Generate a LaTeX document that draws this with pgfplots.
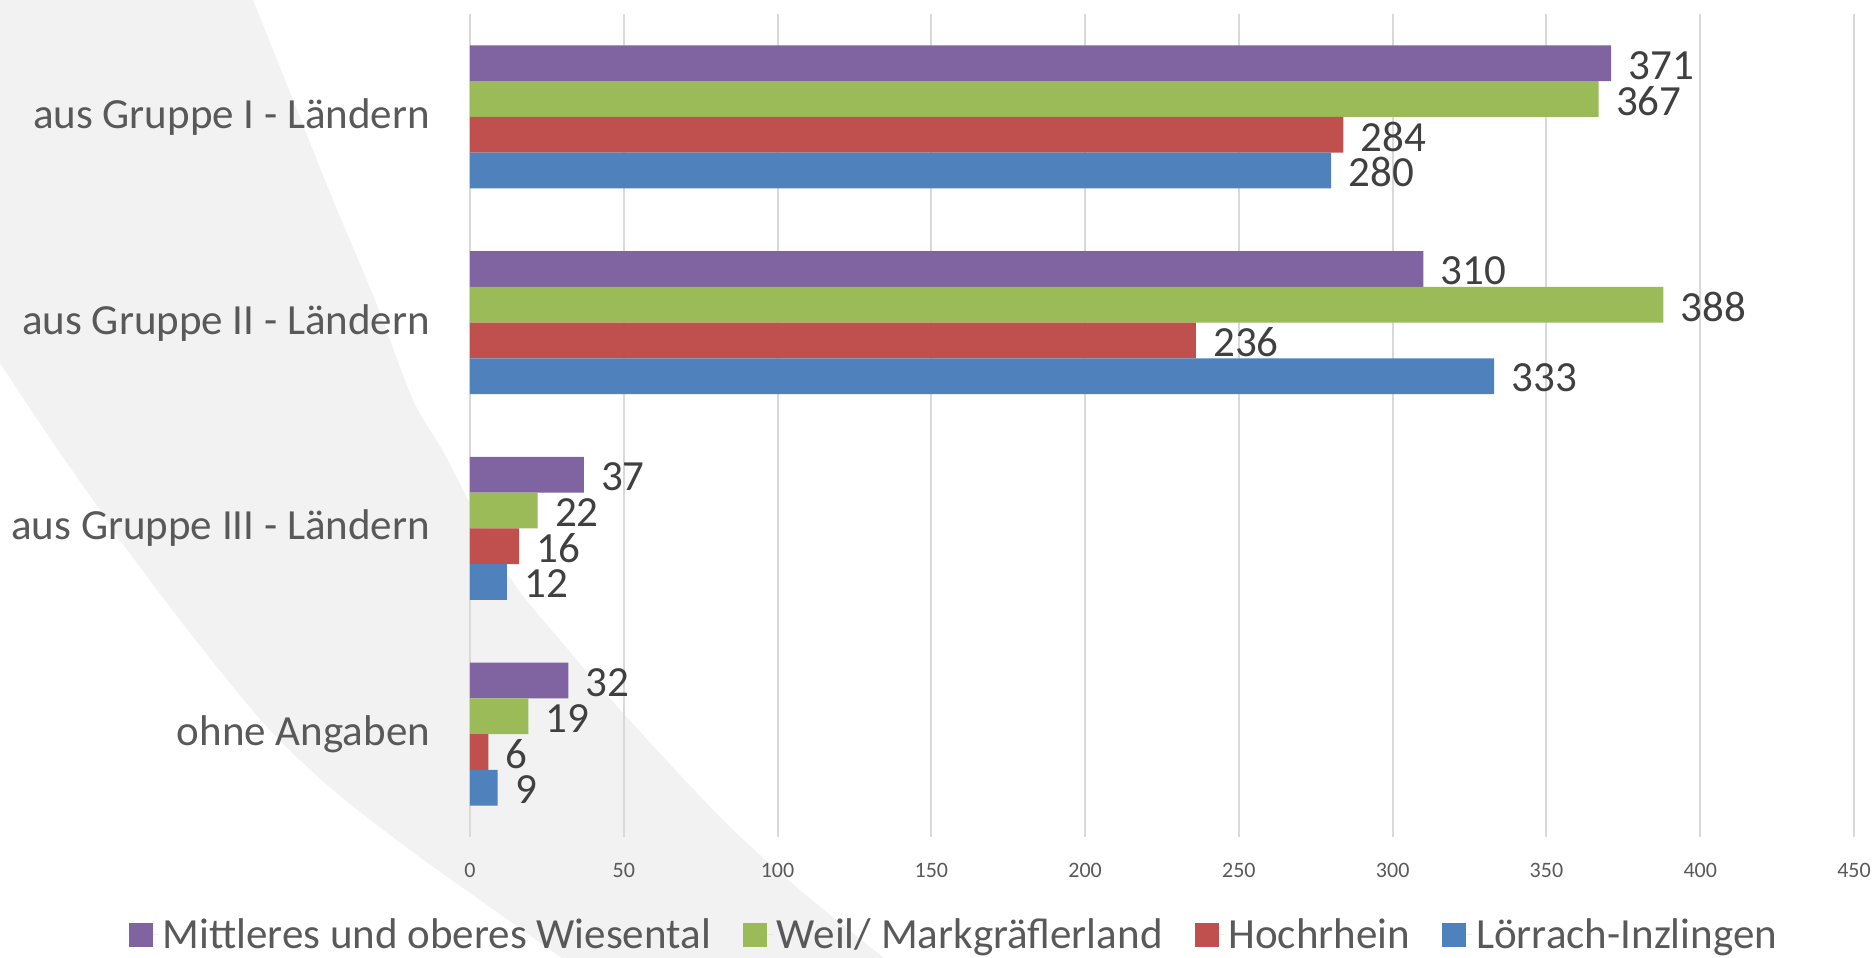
\documentclass[border=0pt]{standalone}
\usepackage{pgfplots}
\pgfplotsset{compat=1.18}
\usepackage{fontspec}
\setmainfont{Carlito}
\definecolor{cpurple}{HTML}{8064A2}
\definecolor{cgreen}{HTML}{9BBB59}
\definecolor{cred}{HTML}{C0504D}
\definecolor{cblue}{HTML}{4F81BD}
\definecolor{textgray}{HTML}{595959}
\definecolor{labelgray}{HTML}{404040}
\definecolor{gridgray}{HTML}{D9D9D9}
\definecolor{bggray}{HTML}{F2F2F2}
\begin{document}
\begin{tikzpicture}
\useasboundingbox (0pt,0pt) rectangle (937pt,479pt);
\begin{scope}[x=1pt,y=1pt]
\fill[bggray] (0,479) -- plot[smooth] coordinates {(126.5,479) (146.5,429) (166.5,379) (187.5,329) (206.5,279) (222.5,251.5) (253.5,192.5) (280,159) (311.5,122.5) (361.5,69) (400,34) (442,0)}
 -- plot[smooth] coordinates {(281,0) (240,29) (205,54) (166.5,84) (133.5,115.5) (95,162.5) (60,209) (50,224) (33.5,247.5) (16.5,272.5) (0,297.5)} -- cycle;
\end{scope}
\begin{axis}[
  at={(235pt,60.5pt)}, anchor=south west,
  scale only axis, width=692pt, height=411.5pt,
  xbar, bar width=17.85pt,
  xmin=0, xmax=450, ymin=-0.5, ymax=3.5,
  xtick={0,50,...,450},
  ytick={0,1,2,3},
  yticklabels={ohne Angaben, aus Gruppe III - Ländern, aus Gruppe II - Ländern, aus Gruppe I - Ländern},
  xmajorgrids, major grid style={draw=gridgray, line width=1pt},
  axis line style={draw=none},
  major tick style={draw=none},
  /pgf/number format/assume math mode=true,
  yticklabel style={font=\fontsize{21.5}{25}\selectfont, text=textgray, inner sep=0pt},
  yticklabel shift=15.5pt,
  xticklabel style={font=\fontsize{11}{13}\selectfont, text=textgray, inner sep=0pt, anchor=north},
  xticklabel shift=13pt,
  nodes near coords,
  every node near coord/.append style={font=\fontsize{21.5}{25}\selectfont, text=labelgray, anchor=west, inner sep=0pt, xshift=8.5pt, yshift=-1pt},
  legend columns=4,
  legend image code/.code={\fill[#1] (0pt,-6pt) rectangle (12pt,6pt); \path (0pt,0pt) -- (15pt,0pt);},
  legend style={draw=none, fill=none, at={(0.3504,-0.119)}, anchor=center,
    font=\fontsize{21.5}{25}\selectfont, text=textgray,
    /tikz/every even column/.append style={column sep=14pt}},
]
\addplot[fill=cpurple, draw=none, bar shift=26.775pt] coordinates {(371,3) (310,2) (37,1) (32,0)};
\addplot[fill=cgreen, draw=none, bar shift=8.925pt] coordinates {(367,3) (388,2) (22,1) (19,0)};
\addplot[fill=cred, draw=none, bar shift=-8.925pt] coordinates {(284,3) (236,2) (16,1) (6,0)};
\addplot[fill=cblue, draw=none, bar shift=-26.775pt] coordinates {(280,3) (333,2) (12,1) (9,0)};
\legend{Mittleres und oberes Wiesental, Weil/ Markgräflerland, Hochrhein, Lörrach-Inzlingen}
\end{axis}
\end{tikzpicture}
\end{document}
